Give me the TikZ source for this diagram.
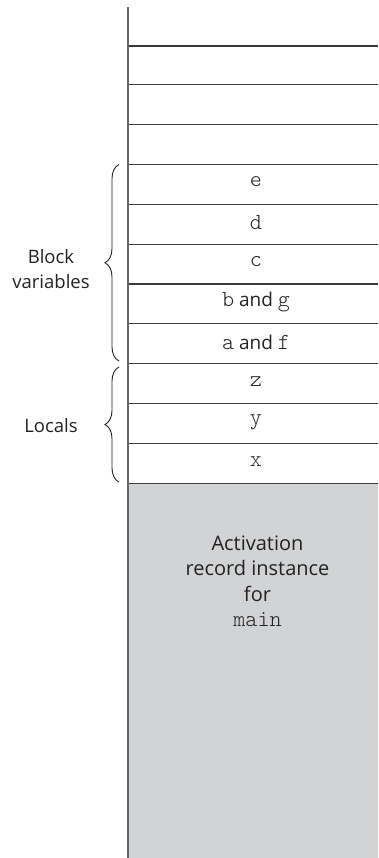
\documentclass[tikz,border=0pt]{standalone}
\usepackage{fontspec}
\setmainfont{Open Sans}
\setmonofont{Latin Modern Mono Light}
\usetikzlibrary{decorations.pathreplacing}
\definecolor{fillgray}{HTML}{D2D3D5}
\definecolor{rulegray}{HTML}{666666}
\definecolor{linedark}{HTML}{3A3A3A}
\definecolor{txt}{HTML}{222222}
\newcommand{\cd}[1]{{\fontsize{23}{24}\selectfont\ttfamily #1}}
\begin{document}
\begin{tikzpicture}[x=1pt,y=-1pt,
  cellline/.style={draw=linedark, line width=1.2pt},
  celltext/.style={inner sep=0pt, text=txt, font=\fontsize{19}{24}\selectfont},
  sidelabel/.style={inner sep=0pt, text=txt, align=center, font=\fontsize{18.5}{24.5}\selectfont},
  bracestyle/.style={draw=txt, line width=0.9pt, decorate, decoration={brace, amplitude=14pt}}
]
\useasboundingbox (0,0) rectangle (378,858);
% activation record fill
\fill[fillgray] (129,483.3) rectangle (378,858);
% horizontal cell lines
\foreach \yy in {46,84.3,124.3,164.3,204.3,244.3,284,323.7,363.3,403.3,443.3,483.3}
  \draw[cellline] (128,\yy) -- (378,\yy);
% stack left edge
\draw[draw=rulegray, line width=2pt] (128,7) -- (128,858);
% cell texts
\node[celltext] (e)  at (256,182) {\cd{e}};
\node[celltext] (d)  at (256,222.5) {\cd{d}};
\node[celltext] (c)  at (256,262) {\cd{c}};
\node[celltext] (bg) at (256,302.5) {\cd{b} and \cd{g}};
\node[celltext] (af) at (256,342) {\cd{a} and \cd{f}};
\node[celltext] (z)  at (256,382) {\cd{z}};
\node[celltext] (y)  at (256,422) {\cd{y}};
\node[celltext] (x)  at (256,462) {\cd{x}};
\node[sidelabel, font=\fontsize{20}{25.5}\selectfont] (act) at (257.5,581) {Activation\\record instance\\for\\\cd{main}};
% braces and labels
\draw[bracestyle] (119,361) -- (119,164.5);
\draw[bracestyle] (119,482) -- (119,367);
\node[sidelabel] (block) at (51,269) {Block\\variables};
\node[sidelabel] (locals) at (51,426) {Locals};
\end{tikzpicture}
\end{document}
